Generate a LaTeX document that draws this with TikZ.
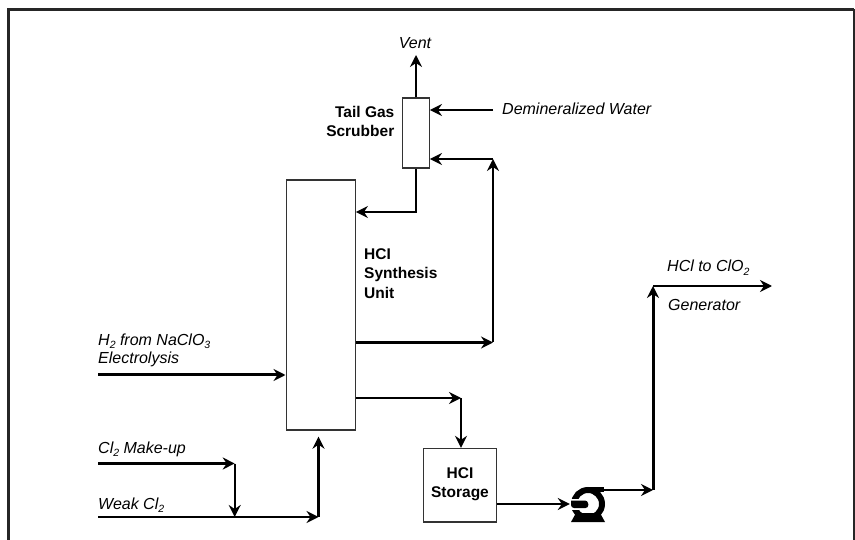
\documentclass[tikz,border=0pt]{standalone}
\usepackage{fontspec}
\setmainfont{Liberation Sans}
\usetikzlibrary{arrows.meta}
\newcommand{\lowsub}[1]{\raisebox{-0.4ex}{\fontsize{10.5}{11}\selectfont #1}}
\tikzset{
    unit/.style={draw=black!80, line width=1.4pt, fill=white, inner sep=0pt},
    flow/.style={line width=2.2pt, -{Stealth[length=12pt, width=12pt, inset=4pt]}},
    heavyflow/.style={flow, line width=3pt},
    stream/.style={font=\fontsize{16}{18.5}\selectfont\itshape, inner sep=0pt, anchor=base west},
    tag/.style={font=\fontsize{15.5}{19.2}\selectfont\bfseries, inner sep=0pt},
}
\begin{document}
\begin{tikzpicture}[x=1pt, y=-1pt]
    \useasboundingbox (0,0) rectangle (855,540);

    % Frame, open at the bottom
    \draw[line width=3pt, black!85] (8,540) -- (8,9.5) -- (854,9.5);
    \draw[line width=1.5pt, black!85] (853.8,9.5) -- (853.8,540);

    % Units
    \node[unit, minimum width=69pt, minimum height=250pt] (column) at (320.7,305) {};
    \node[unit, minimum width=26.5pt, minimum height=70pt] (scrubber) at (416,133.2) {};
    \node[unit, minimum width=73pt, minimum height=73.5pt] (storage) at (460,485.3) {};
    \node[circle, minimum size=36pt, inner sep=0pt] (pump) at (588,504) {};

    % Junctions and free ends
    \coordinate (ventout) at (416,55);
    \coordinate (waterin) at (493,110);
    \coordinate (recycle) at (493,342.5);
    \coordinate (recycletop) at (493,159);
    \coordinate (offgas) at (416,212);
    \coordinate (product) at (461,398);
    \coordinate (h2in) at (98,375);
    \coordinate (makeupin) at (98,463.5);
    \coordinate (makeup) at (234.7,463.5);
    \coordinate (weakin) at (98,517);
    \coordinate (weak) at (318.5,517);
    \coordinate (pumpout) at (604,490);
    \coordinate (riser) at (653,490);
    \coordinate (risertop) at (653,286);
    \coordinate (hclout) at (772,286);

    % Pump body
    \draw[line width=6pt] (pump) circle (14pt);
    \fill (571,522) -- (576,513) -- (600,513) -- (605,522) -- cycle;
    \fill (588,487) rectangle (604,492);
    \fill[white] (570,498.5) rectangle (579,510);
    \fill[rounded corners=3pt] (571,500.5) -- (588,500.5) -- (588.5,508) -- (571,508) [sharp corners] -- cycle;

    % Scrubber streams
    \draw[flow, line width=2.4pt] (scrubber.north) -- (ventout);
    \draw[flow] (waterin) -- (scrubber.east |- waterin);
    \draw[flow] (recycletop) -- (scrubber.east |- recycletop);
    \draw[flow] (scrubber.south) -- (offgas) -- (column.east |- offgas);

    % Recycle loop
    \draw[flow] (column.east |- recycle) -- (recycle);
    \draw[flow] (recycle) -- (recycletop);

    % Product to storage
    \draw[flow] (column.east |- product) -- (product);
    \draw[flow] (product) -- (storage.north -| product);

    % Feeds
    \draw[heavyflow] (h2in) -- (column.west |- h2in);
    \draw[flow] (makeupin) -- (makeup);
    \draw[flow] (makeup) -- (makeup |- weakin);
    \draw[flow] (weakin) -- (weak);
    \draw[heavyflow] (weak) -- ([yshift=-6pt]weak |- column.south);

    % Storage through pump to generator
    \draw[flow] (storage.east |- pump.west) -- (pump.west);
    \draw[flow] (pumpout) -- (riser);
    \draw[heavyflow] (riser) -- (risertop);
    \draw[flow] (risertop) -- (hclout);

    % Labels
    \node[stream, anchor=base] (ventlabel) at (415,49) {Vent};
    \node[stream] (waterlabel) at (502,114.5) {Demineralized Water};
    \node[tag, align=right, anchor=east] (scrubberlabel) at (394.5,121.5) {Tail Gas\\Scrubber};
    \node[tag, align=left, anchor=west] (columnlabel) at (364,273.5) {HCI\\Synthesis\\Unit};
    \node[tag, align=center] (storagelabel) at (460,484.5) {HCI\\Storage};
    \node[stream] (h2label) at (98,345) {H\lowsub{2} from NaClO\lowsub{3}};
    \node[stream] (electrolabel) at (98,363) {Electrolysis};
    \node[stream] (makeuplabel) at (98,453) {Cl\lowsub{2} Make-up};
    \node[stream] (weaklabel) at (98,509) {Weak Cl\lowsub{2}};
    \node[stream] (hcllabel) at (667,272) {HCl to ClO\lowsub{2}};
    \node[stream] (generatorlabel) at (668,311) {Generator};
\end{tikzpicture}
\end{document}
